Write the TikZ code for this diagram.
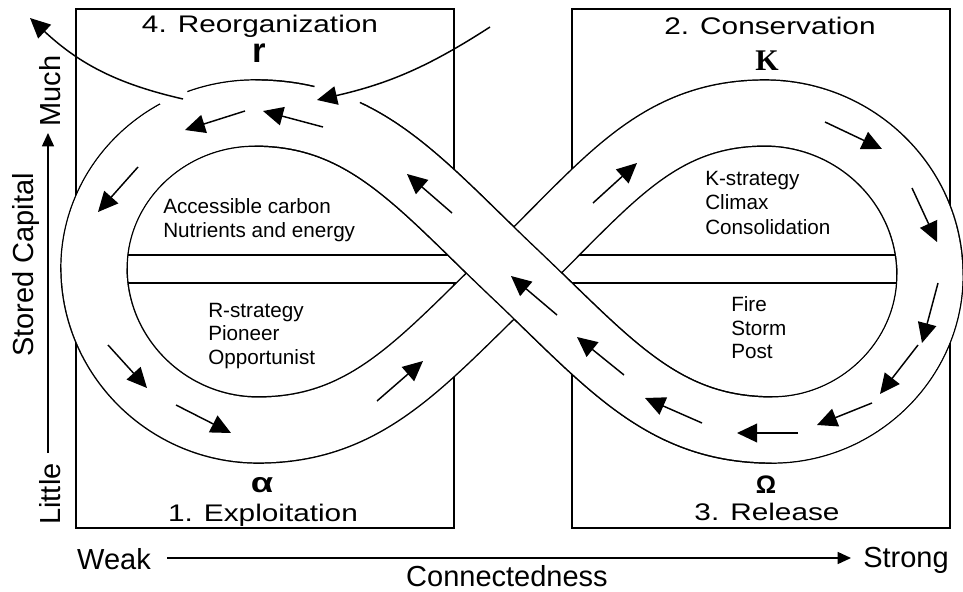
\documentclass[tikz,border=0pt]{standalone}
\usepackage{graphicx}
\usepackage{fontspec}
\setmainfont{Liberation Sans}
\newfontfamily\serifface{Liberation Serif}
\usetikzlibrary{arrows.meta}
\begin{document}
\begin{tikzpicture}[x=0.75pt,y=-0.75pt,
  boxline/.style={line width=1.2pt},
  ribbon/.style={line width=1.1pt, double=white, double distance=48.5pt},
  ribbonouter/.style={line width=50.7pt},
  ribboninner/.style={white, line width=48.5pt},
  flow/.style={line width=1.1pt, -{Triangle[length=15pt,width=14pt]}},
  axisarrow/.style={line width=1.1pt, -{Triangle[length=10pt,width=9pt]}},
  innertext/.style={font=\fontsize{15.5pt}{18pt}\selectfont, anchor=base west, inner sep=0pt},
  phasetitle/.style={font=\fontsize{18pt}{21pt}\selectfont, anchor=base, inner sep=0pt},
  axislabel/.style={font=\fontsize{21.75pt}{24pt}\selectfont, anchor=base, inner sep=0pt},
  greek/.style={anchor=base, inner sep=0pt}]
\useasboundingbox (0,0) rectangle (963,592);
\clip (0,0) rectangle (963,592);
\fill[white] (0,0) rectangle (963,592);

% phase boxes
\draw[boxline] (76,9) rectangle (454,528);
\draw[boxline] (572,9) rectangle (950,528);

% horizontal band inside loops
\fill[white] (120,255) rectangle (905,283);
\draw[boxline] (120,255) -- (905,255);
\draw[boxline] (120,283) -- (905,283);

% figure-eight ribbon
\draw[ribbon] (514,273) .. controls (606,185) and (655,113) .. (765,113)
  .. controls (855,113) and (930,185) .. (930,275)
  .. controls (930,360) and (858,430) .. (772,430)
  .. controls (662,430) and (609,363) .. (514,273)
  .. controls (419,183) and (365,113) .. (255,113)
  .. controls (166,113) and (94,183) .. (94,268)
  .. controls (94,357) and (168,430) .. (258,430)
  .. controls (368,430) and (422,361) .. (514,273) -- cycle;
% over-crossing strand: edges, then its white inside (a little longer, so no seam)
\draw[ribbonouter] (772,430) .. controls (662,430) and (609,363) .. (514,273)
  .. controls (419,183) and (365,113) .. (255,113);
\draw[ribboninner] (930,275) .. controls (930,360) and (858,430) .. (772,430)
  .. controls (662,430) and (609,363) .. (514,273)
  .. controls (419,183) and (365,113) .. (255,113)
  .. controls (166,113) and (94,183) .. (94,268);

% gaps in the outer edge at the top of the left loop
\fill[white] (173,96) circle (15);
\fill[white] (337,95) circle (24);

% flow arrows
\draw[flow] (245,111) -- (185,130);
\draw[flow] (323,127) -- (263,111);
\draw[flow] (490,27) to[bend left=10] (317,100);
\draw[flow] (183,99) to[bend left=15] (30,18);
\draw[flow] (138,167) -- (98,212);
\draw[flow] (108,345) -- (147,388);
\draw[flow] (176,405) -- (231,433);
\draw[flow] (377,401) -- (423,361);
\draw[flow] (593,203) -- (637,163);
\draw[flow] (825,122) -- (882,149);
\draw[flow] (912,188) -- (937,242);
\draw[flow] (938,283) -- (922,343);
\draw[flow] (918,345) -- (880,394);
\draw[flow] (872,403) -- (817,425);
\draw[flow] (798,433) -- (737,433);
\draw[flow] (702,423) -- (645,398);
\draw[flow] (624,375) -- (577,337);
\draw[flow] (557,315) -- (511,276);
\draw[flow] (452,213) -- (407,174);

% phase titles
\node[phasetitle] (reorg) at (260,33) {\scalebox{1.24}[1]{4. Reorganization}};
\node[phasetitle] (conserv) at (770,35) {\scalebox{1.24}[1]{2. Conservation}};
\node[phasetitle] (exploit) at (263,521) {\scalebox{1.24}[1]{1. Exploitation}};
\node[phasetitle] (release) at (767,520) {\scalebox{1.24}[1]{3. Release}};

% greek symbols
\node[greek, font=\fontsize{26pt}{28pt}\selectfont\bfseries] (rsym) at (259,63) {r};
\node[greek, font=\fontsize{22.5pt}{24pt}\selectfont\serifface\bfseries] (ksym) at (767,70) {K};
\node[greek, font=\fontsize{21pt}{24pt}\selectfont\bfseries] (asym) at (262,492) {\scalebox{1.3}[1]{α}};
\node[greek, font=\fontsize{19pt}{22pt}\selectfont\bfseries] (osym) at (766,493) {Ω};

% inner texts
\node[innertext] (t1) at (163,213) {Accessible carbon};
\node[innertext] (t2) at (163,237) {Nutrients and energy};
\node[innertext] (t3) at (705,185) {K-strategy};
\node[innertext] (t4) at (705,209) {Climax};
\node[innertext] (t5) at (705,234) {Consolidation};
\node[innertext] (t6) at (208,317) {R-strategy};
\node[innertext] (t7) at (208,340) {Pioneer};
\node[innertext] (t8) at (208,364) {Opportunist};
\node[innertext] (t9) at (731,311) {Fire};
\node[innertext] (t10) at (731,335) {Storm};
\node[innertext] (t11) at (731,358) {Post};

% axes
\node[axislabel] (weak) at (114,569) {Weak};
\node[axislabel] (strong) at (906,567) {Strong};
\node[axislabel] (conn) at (507,586) {Connectedness};
\node[axislabel, rotate=90] (stored) at (33,265) {Stored Capital};
\node[axislabel, rotate=90] (much) at (60,91) {Much};
\node[axislabel, rotate=90] (little) at (60,494) {Little};
\coordinate (vlow) at (48,453);
\coordinate (vhigh) at (48,133);
\coordinate (hleft) at (167,558);
\coordinate (hright) at (851,558);
\draw[axisarrow] (vlow) -- (vhigh);
\draw[axisarrow] (hleft) -- (hright);
\end{tikzpicture}
\end{document}
